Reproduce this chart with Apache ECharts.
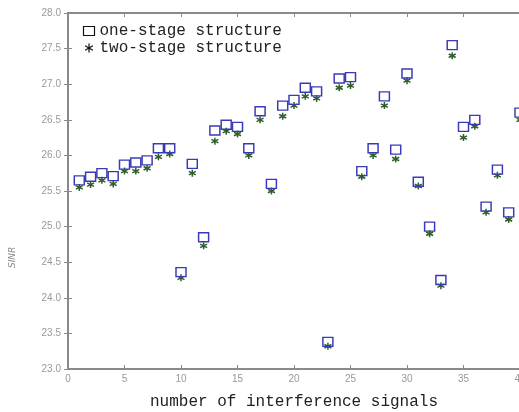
<!DOCTYPE html>
<html>
<head>
<meta charset="utf-8" />
<title>SINR</title>
<style>
  html, body { margin: 0; padding: 0; background: #fff; }
  #chart { width: 519px; height: 412px; }
</style>
</head>
<body>
<div id="chart"></div>
<script src="https://cdn.jsdelivr.net/npm/echarts@6/dist/echarts.min.js"></script>
<script>
// number of interference signals
var xVals = [1, 2, 3, 4, 5, 6, 7, 8, 9, 10, 11, 12, 13, 14, 15, 16, 17, 18, 19, 20,
             21, 22, 23, 24, 25, 26, 27, 28, 29, 30, 31, 32, 33, 34, 35, 36, 37, 38, 39, 40];
// SINR, one-stage structure
var oneStage = [25.65, 25.70, 25.75, 25.71, 25.87, 25.90, 25.93, 26.10, 26.10, 24.36,
                25.88, 24.85, 26.35, 26.43, 26.40, 26.10, 26.62, 25.60, 26.70, 26.78,
                26.95, 26.90, 23.38, 27.08, 27.10, 25.78, 26.10, 26.83, 26.08, 27.15,
                25.63, 25.00, 24.25, 27.55, 26.40, 26.50, 25.28, 25.80, 25.20, 26.60];
// SINR, two-stage structure
var twoStage = [25.55, 25.59, 25.65, 25.60, 25.78, 25.78, 25.82, 25.98, 26.02, 24.28,
                25.75, 24.73, 26.20, 26.34, 26.30, 26.00, 26.50, 25.50, 26.55, 26.70,
                26.83, 26.80, 23.32, 26.95, 26.98, 25.70, 26.00, 26.70, 25.95, 27.05,
                25.57, 24.90, 24.17, 27.40, 26.25, 26.41, 25.20, 25.72, 25.10, 26.50];

function pairs(ys) {
  return xVals.map(function (x, i) { return [x, ys[i]]; });
}

var star = 'path://M0,-5L0,5M-4.3,-2.5L4.3,2.5M-4.3,2.5L4.3,-2.5';
var gray = '#8a8a8a';

var chart = echarts.init(document.getElementById('chart'));
chart.setOption({
  animation: false,
  backgroundColor: '#fff',
  grid: { left: 68, right: -1, top: 13, bottom: 43, outerBoundsMode: 'none', containLabel: false },
  legend: {
    orient: 'vertical',
    left: 76,
    top: 18,
    itemWidth: 11,
    itemHeight: 9,
    itemGap: 1,
    textStyle: { fontFamily: 'Liberation Mono', fontSize: 16, color: '#222' },
    data: [
      { name: 'one-stage structure', icon: 'rect',
        itemStyle: { color: 'none', borderColor: '#111', borderWidth: 1.2 } },
      { name: 'two-stage structure', icon: star,
        itemStyle: { color: 'none', borderColor: '#111', borderWidth: 1.2 } }
    ]
  },
  graphic: [{
    type: 'text',
    x: 8, y: 268,
    rotation: Math.PI / 2,
    style: { text: 'SINR', fontSize: 9, fontStyle: 'italic', fill: gray, fontFamily: 'DejaVu Sans' }
  }],
  xAxis: [{
    type: 'value',
    min: 0, max: 40, interval: 5,
    axisLine: { lineStyle: { color: gray, width: 2 } },
    axisTick: { inside: true, length: 4, lineStyle: { color: gray } },
    axisLabel: { color: '#999', fontSize: 10, margin: 5 },
    splitLine: { show: false },
    name: 'number of interference signals',
    nameLocation: 'middle',
    nameGap: 25,
    nameTextStyle: { fontFamily: 'Liberation Mono', fontSize: 16, color: '#222' }
  }, {
    type: 'value', position: 'top',
    min: 0, max: 40, interval: 5,
    axisLine: { show: true, lineStyle: { color: gray, width: 2 } },
    axisTick: { inside: true, length: 4, lineStyle: { color: gray } },
    axisLabel: { show: false },
    splitLine: { show: false }
  }],
  yAxis: [{
    type: 'value',
    min: 23, max: 28, interval: 0.5,
    axisLine: { show: true, lineStyle: { color: gray, width: 2 } },
    axisTick: { show: true, inside: true, length: 4, lineStyle: { color: gray } },
    axisLabel: { color: '#999', fontSize: 10, margin: 7,
      formatter: function (v) { return v.toFixed(1); } },
    splitLine: { show: false }
  }, {
    type: 'value', position: 'right',
    min: 23, max: 28, interval: 0.5,
    axisLine: { show: true, lineStyle: { color: gray, width: 2 } },
    axisTick: { show: true, inside: true, length: 4, lineStyle: { color: gray } },
    axisLabel: { show: false },
    splitLine: { show: false }
  }],
  series: [{
    name: 'two-stage structure',
    type: 'scatter',
    symbol: star,
    symbolSize: 7,
    itemStyle: { color: 'none', borderColor: '#2e5e2a', borderWidth: 1.5, opacity: 1 },
    data: pairs(twoStage)
  }, {
    name: 'one-stage structure',
    type: 'scatter',
    symbol: 'rect',
    symbolSize: [10, 9],
    itemStyle: { color: 'none', borderColor: '#3a3ab8', borderWidth: 1.4, opacity: 1 },
    data: pairs(oneStage)
  }]
});
</script>
</body>
</html>
